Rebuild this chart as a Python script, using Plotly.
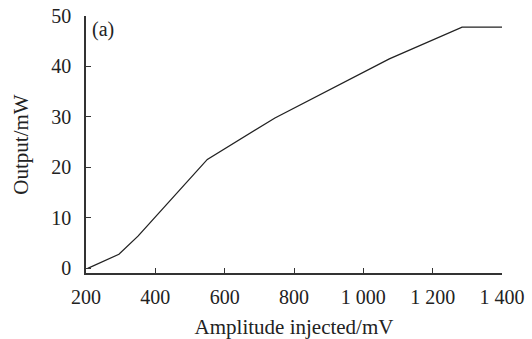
import plotly.graph_objects as go

amplitude_mv = [205, 295, 350, 550, 745, 1075, 1285, 1400]
output_mw = [0.0, 2.8, 6.4, 21.6, 29.8, 41.5, 47.8, 47.8]

x_ticks = [200, 400, 600, 800, 1000, 1200, 1400]
x_ticklabels = ["200", "400", "600", "800", "1 000", "1 200", "1 400"]
y_ticks = [0, 10, 20, 30, 40, 50]

FONT = "Liberation Serif"

fig = go.Figure()
fig.add_trace(go.Scatter(
    x=amplitude_mv, y=output_mw, mode="lines",
    line=dict(color="#222222", width=1.3),
    showlegend=False,
))

fig.update_layout(
    width=532, height=339,
    margin=dict(l=86, r=30, t=16, b=66),
    paper_bgcolor="white", plot_bgcolor="white",
    font=dict(family=FONT, size=20, color="#222222"),
    xaxis=dict(
        range=[200, 1400], tickvals=x_ticks, ticktext=x_ticklabels, automargin=False,
        showgrid=False, zeroline=False, showline=True, linecolor="#333333", linewidth=1.5,
        ticks="inside", ticklen=5, tickcolor="#333333", tickwidth=1.3,
        ticklabelstandoff=5, tickfont=dict(family=FONT, size=20),
        title=dict(text="Amplitude injected/mV", font=dict(family=FONT, size=21), standoff=15),
    ),
    yaxis=dict(
        range=[-0.9, 50], tickvals=y_ticks, automargin=False,
        showgrid=False, zeroline=False, showline=True, linecolor="#333333", linewidth=1.5,
        ticks="inside", ticklen=5, tickcolor="#333333", tickwidth=1.3,
        ticklabelstandoff=9, tickfont=dict(family=FONT, size=20),
        title=dict(text="Output/mW", font=dict(family=FONT, size=21), standoff=17),
    ),
    annotations=[dict(
        text="(a)", xref="paper", yref="paper", x=0.01, y=1.0,
        xanchor="left", yanchor="top", showarrow=False,
        font=dict(family=FONT, size=20, color="#222222"),
    )],
)

fig.write_html("out.html")
